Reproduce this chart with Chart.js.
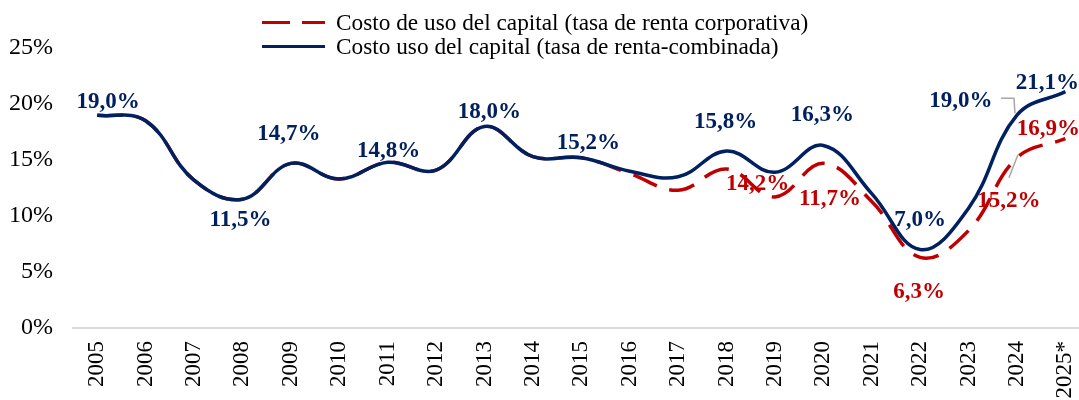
<!DOCTYPE html>
<html>
<head>
<meta charset="utf-8">
<script src="https://cdn.jsdelivr.net/npm/chart.js@4"></script>
<style>
  html, body { margin: 0; padding: 0; background: #fff; overflow: hidden; width: 1079px; height: 400px; }
  #wrap { position: relative; width: 1106px; height: 400px; }
  #legend { position: absolute; left: 262px; top: 10px; font-family: 'Liberation Serif', 'Times New Roman', serif; font-size: 23.3px; color: #000; }
  .row { display: flex; align-items: center; height: 24px; white-space: nowrap; }
  .key { position: relative; width: 63px; height: 3px; margin-right: 11px; flex: none; }
  .seg { position: absolute; top: 0; height: 3px; }
</style>
</head>
<body>
<div id="wrap">
  <canvas id="chart" width="1106" height="400"></canvas>
  <div id="legend">
    <div class="row">
      <span class="key"><span class="seg" style="left:0;width:28px;background:#c00000"></span><span class="seg" style="left:40px;width:23px;background:#c00000"></span></span>
      <span>Costo de uso del capital (tasa de renta corporativa)</span>
    </div>
    <div class="row">
      <span class="key"><span class="seg" style="left:0;width:63px;background:#002060"></span></span>
      <span>Costo uso del capital (tasa de renta-combinada)</span>
    </div>
  </div>
</div>
<script>
//================================ DADES

const years = ['2005', '2006', '2007', '2008', '2009', '2010', '2011', '2012', '2013', '2014',
  '2015', '2016', '2017', '2018', '2019', '2020', '2021', '2022', '2023', '2024', '2025*'];

// Tasa de renta combinada (línia contínua)
const combinada = [19.0, 18.5, 13.2, 11.5, 14.7, 13.3, 14.8, 14.1, 18.0, 15.3,
  15.2, 14.0, 13.5, 15.8, 13.9, 16.3, 12.0, 7.0, 10.7, 19.0, 21.1];

// Tasa de renta corporativa (línia discontínua)
const corporativa = [19.0, 18.5, 13.2, 11.5, 14.7, 13.3, 14.8, 14.1, 18.0, 15.3,
  15.2, 13.8, 12.3, 14.2, 11.7, 14.7, 11.3, 6.3, 8.7, 15.2, 16.9];

const yTicks = [0, 5, 10, 15, 20, 25];

// Punts amb etiqueta
const combinadaLabelIdx = [0, 3, 4, 6, 8, 10, 13, 15, 17, 19, 20];
const corporativaLabelIdx = [13, 14, 17, 19, 20];

//================================ ESTILS

const NAVY = '#002060';
const RED = '#c00000';
const SERIF = "'Liberation Serif', 'Times New Roman', serif";

// desplaçament [dx, dy] del centre de l'etiqueta respecte al punt
const combinadaLabelOff = [[11, -14], [-2, 20], [-2, -30], [1, -12], [5, -15], [7, -16],
  [-1, -30], [-1, -31], [0, -31], [-56, -15], [-18, -10]];
const corporativaLabelOff = [[31, 14], [55, 1], [-1, 34], [-8, 42], [-17, -11]];

// línies guia (relatives al punt)
const leaders = [
  { ds: 0, idx: 19, pts: [[-16, -17], [-3, -17], [-2, -2]] },
  { ds: 1, idx: 19, pts: [[1, -3], [-8, 20]] },
];

function fmt (v) {
  return v.toFixed(1).replace('.', ',') + '%';
}

const valueLabels = {
  id: 'valueLabels',
  afterDatasetsDraw (chart) {
    const ctx = chart.ctx;
    ctx.save();
    ctx.strokeStyle = '#a6a6a6';
    ctx.lineWidth = 1.5;
    for (let i = 0; i < leaders.length; i++) {
      const el = chart.getDatasetMeta(leaders[i].ds).data[leaders[i].idx];
      const p = leaders[i].pts;
      ctx.beginPath();
      ctx.moveTo(el.x + p[0][0], el.y + p[0][1]);
      for (let k = 1; k < p.length; k++) {
        ctx.lineTo(el.x + p[k][0], el.y + p[k][1]);
      }
      ctx.stroke();
    }
    ctx.font = 'bold 23px ' + SERIF;
    ctx.textAlign = 'center';
    ctx.textBaseline = 'middle';
    const groups = [
      { ds: 0, idx: combinadaLabelIdx, off: combinadaLabelOff, vals: combinada, color: NAVY },
      { ds: 1, idx: corporativaLabelIdx, off: corporativaLabelOff, vals: corporativa, color: RED },
    ];
    for (let g = 0; g < groups.length; g++) {
      const grp = groups[g];
      const meta = chart.getDatasetMeta(grp.ds);
      ctx.fillStyle = grp.color;
      for (let j = 0; j < grp.idx.length; j++) {
        const el = meta.data[grp.idx[j]];
        ctx.fillText(fmt(grp.vals[grp.idx[j]]), el.x + grp.off[j][0], el.y + grp.off[j][1] + 1);
      }
    }
    ctx.restore();
  },
};

new Chart(document.getElementById('chart'), {
  type: 'line',
  data: {
    labels: years,
    datasets: [
      {
        label: 'Costo uso del capital (tasa de renta-combinada)',
        data: combinada,
        borderColor: NAVY,
        borderWidth: 3.5,
        tension: 0.4,
        pointRadius: 0,
        fill: false,
      },
      {
        label: 'Costo de uso del capital (tasa de renta corporativa)',
        data: corporativa,
        borderColor: RED,
        borderWidth: 3.5,
        borderDash: [26, 13],
        tension: 0.4,
        pointRadius: 0,
        fill: false,
      },
    ],
  },
  options: {
    responsive: false,
    animation: false,
    layout: { padding: { top: 48, right: 1, left: 0, bottom: 0 } },
    plugins: {
      legend: { display: false },
      tooltip: { enabled: false },
    },
    scales: {
      x: {
        offset: true,
        grid: { display: false, drawTicks: false },
        border: { display: true, color: '#d9d9d9', width: 2 },
        ticks: {
          color: '#000',
          font: { family: SERIF, size: 23 },
          minRotation: 90,
          maxRotation: 90,
          padding: 13,
          autoSkip: false,
        },
        afterFit (scale) { scale.height = 72; },
      },
      y: {
        min: 0,
        max: 25,
        grid: { display: false, drawTicks: false },
        border: { display: false },
        afterBuildTicks (scale) {
          const t = [];
          for (let i = 0; i < yTicks.length; i++) t.push({ value: yTicks[i] });
          scale.ticks = t;
        },
        ticks: {
          color: '#000',
          font: { family: SERIF, size: 24 },
          padding: 20,
          callback (v) { return v + '%'; },
        },
        afterFit (scale) { scale.width = 73; },
      },
    },
  },
  plugins: [valueLabels],
});
</script>
</body>
</html>
